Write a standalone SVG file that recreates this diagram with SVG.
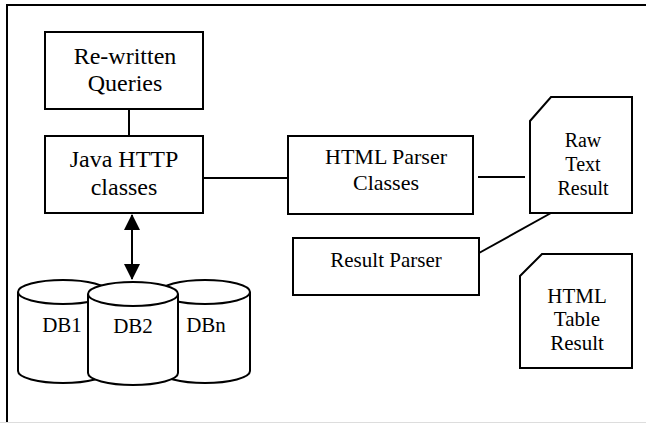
<svg xmlns="http://www.w3.org/2000/svg" width="646" height="423" viewBox="0 0 646 423">
  <style>
    .box { fill: #fff; stroke: #000; stroke-width: 2; }
    .wire { fill: none; stroke: #000; stroke-width: 2; }
    text { font-family: 'Liberation Serif', Tinos, 'Times New Roman', Times, 'DejaVu Serif', 'Noto Serif', serif; fill: #000; text-anchor: middle; }
  </style>
  <defs>
    <marker id="head" viewBox="0 0 16 16" refX="15" refY="8" markerWidth="16" markerHeight="16" markerUnits="userSpaceOnUse" orient="auto-start-reverse">
      <path d="M0,0 L16,8 L0,16 Z" fill="#000"/>
    </marker>
  </defs>

  <rect width="646" height="423" fill="#fff"/>
  <!-- outer frame -->
  <rect x="7" y="5" width="680" height="460" fill="none" stroke="#000" stroke-width="2"/>
  <line x1="0" y1="422.5" x2="646" y2="422.5" stroke="#ddd" stroke-width="1"/>

  <g id="connectors">
    <line class="wire" x1="129" y1="109" x2="129" y2="136"/>
    <line class="wire" x1="203" y1="178" x2="288" y2="178"/>
    <line class="wire" x1="478" y1="177" x2="525" y2="177"/>
    <line class="wire" x1="551" y1="213" x2="479" y2="253"/>
    <line class="wire" x1="132" y1="215" x2="132" y2="279" marker-start="url(#head)" marker-end="url(#head)"/>
  </g>

  <g id="rewritten-queries" font-family="Liberation Serif, serif">
    <rect class="box" x="45" y="32" width="158" height="77"/>
    <text x="125" y="64" font-size="24">Re-written</text>
    <text x="125" y="91" font-size="24">Queries</text>
  </g>

  <g id="java-http">
    <rect class="box" x="45" y="136" width="158" height="77"/>
    <text x="124" y="167" font-size="24">Java HTTP</text>
    <text x="124" y="195" font-size="24">classes</text>
  </g>

  <g id="html-parser">
    <rect class="box" x="288" y="136" width="185" height="78"/>
    <text x="386" y="164" font-size="22">HTML Parser</text>
    <text x="386" y="190" font-size="22">Classes</text>
  </g>

  <g id="raw-text-result">
    <path class="box" d="M530,121 L551,97 L632,97 L632,213 L530,213 Z"/>
    <text x="583" y="147" font-size="20">Raw</text>
    <text x="583" y="171" font-size="20">Text</text>
    <text x="583" y="195" font-size="20">Result</text>
  </g>

  <g id="result-parser">
    <rect class="box" x="293" y="238" width="186" height="57"/>
    <text x="386" y="267" font-size="21">Result Parser</text>
  </g>

  <g id="html-table-result">
    <path class="box" d="M520,276 L542,254 L632,254 L632,368 L520,368 Z"/>
    <text x="577" y="303" font-size="21">HTML</text>
    <text x="577" y="326" font-size="21">Table</text>
    <text x="577" y="350" font-size="21">Result</text>
  </g>

  <g id="db1">
    <path class="box" d="M18,292 A45,12 0 0 1 108,292 V371 A45,12 0 0 1 18,371 Z"/>
    <path class="wire" d="M18,292 A45,12 0 0 0 108,292"/>
    <text x="62" y="332" font-size="21">DB1</text>
  </g>

  <g id="dbn">
    <path class="box" d="M160,292 A45,12 0 0 1 250,292 V371 A45,12 0 0 1 160,371 Z"/>
    <path class="wire" d="M160,292 A45,12 0 0 0 250,292"/>
    <text x="206" y="332" font-size="21">DBn</text>
  </g>

  <g id="db2">
    <path class="box" d="M88,294 A45,12 0 0 1 178,294 V373 A45,12 0 0 1 88,373 Z"/>
    <path class="wire" d="M88,294 A45,12 0 0 0 178,294"/>
    <text x="133" y="333" font-size="21">DB2</text>
  </g>
</svg>
